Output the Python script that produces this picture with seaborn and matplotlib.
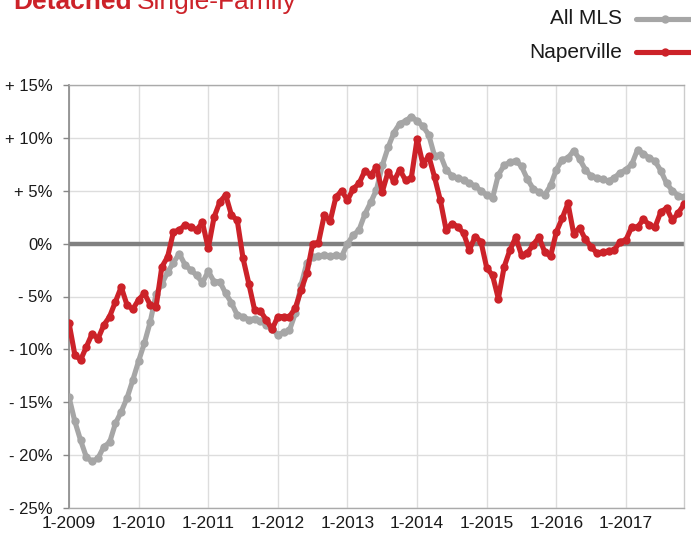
import matplotlib
matplotlib.use("Agg")
import matplotlib.pyplot as plt
import seaborn as sns
import numpy as np
import pandas as pd
from matplotlib.lines import Line2D

# ---------------- data ----------------
x_tick_labels = ["1-2009", "1-2010", "1-2011", "1-2012", "1-2013",
                 "1-2014", "1-2015", "1-2016", "1-2017"]
y_tick_values = [-25, -20, -15, -10, -5, 0, 5, 10, 15]
y_tick_labels = ["- 25%", "- 20%", "- 15%", "- 10%", "- 5%", "0%",
                 "+ 5%", "+ 10%", "+ 15%"]

all_mls = [
    -14.5, -16.8, -18.6, -20.2, -20.6, -20.3, -19.2, -18.8, -17.0, -15.9,
    -14.6, -12.9, -11.1, -9.4, -7.4, -4.8, -3.8, -2.7, -1.8, -0.95,
    -2.0, -2.5, -3.0, -3.7, -2.6, -3.6, -3.6, -4.7, -5.6, -6.75,
    -6.9, -7.2, -7.1, -7.3, -7.7, -8.1, -8.6, -8.4, -8.2, -6.6,
    -3.9, -1.8, -1.25, -1.15, -1.1, -1.2, -1.1, -1.2, 0.0, 0.8,
    1.3, 2.8, 3.9, 5.1, 7.4, 9.1, 10.5, 11.35, 11.6, 12.0,
    11.6, 11.1, 10.3, 8.3, 8.4, 7.0, 6.4, 6.2, 6.05, 5.7,
    5.45, 5.0, 4.6, 4.3, 6.5, 7.4, 7.7, 7.85, 7.3, 6.1,
    5.2, 4.85, 4.6, 5.5, 7.0, 7.95, 8.1, 8.8, 8.0, 7.0,
    6.35, 6.25, 6.1, 5.9, 6.25, 6.7, 7.0, 7.5, 8.9, 8.5,
    8.1, 7.8, 6.9, 5.7, 5.0, 4.55, 4.4,
]

naperville = [
    -7.5, -10.5, -11.0, -9.75, -8.5, -9.0, -7.7, -6.9, -5.5, -4.1,
    -5.8, -6.2, -5.3, -4.7, -5.8, -6.0, -2.2, -1.25, 1.1, 1.3,
    1.75, 1.6, 1.3, 2.0, -0.45, 2.5, 3.95, 4.6, 2.7, 2.2,
    -1.4, -3.8, -6.3, -6.4, -7.2, -8.1, -6.9, -6.9, -6.9, -6.1,
    -4.4, -2.8, 0.0, 0.1, 2.7, 2.1, 4.4, 5.0, 4.1, 5.2,
    5.7, 6.9, 6.5, 7.2, 4.9, 6.8, 5.9, 7.0, 6.0, 6.2,
    9.9, 7.5, 8.3, 6.3, 4.1, 1.3, 1.9, 1.6, 1.0, -0.6,
    0.66, 0.2, -2.3, -3.0, -5.2, -2.2, -0.6, 0.6, -1.1, -0.9,
    -0.1, 0.6, -0.8, -1.2, 1.1, 2.4, 3.8, 0.9, 1.5, 0.4,
    -0.3, -0.9, -0.8, -0.7, -0.6, 0.2, 0.35, 1.6, 1.55, 2.3,
    1.8, 1.55, 3.0, 3.35, 2.2, 2.9, 3.7,
]

series_names = ["All MLS", "Naperville"]

# ---------------- style ----------------
GRAY = "#a6a6a6"
RED = "#cc2229"
TEXT = "#1a1a1a"

sns.set_theme(style="white")
plt.rcParams["font.family"] = ["Liberation Sans", "DejaVu Sans"]

W, H = 691, 535
fig = plt.figure(figsize=(W / 100, H / 100), dpi=100)
ax = fig.add_axes([69 / W, 1 - 508 / H, (684 - 69) / W, (508 - 85) / H])

months = np.arange(len(all_mls))
df = pd.DataFrame({
    "month": np.concatenate([months, months]),
    "value": all_mls + naperville,
    "series": [series_names[0]] * len(all_mls) + [series_names[1]] * len(naperville),
})

ax.axhline(0, color="#808080", lw=3.2, zorder=1.5)

for name, col in zip(series_names, [GRAY, RED]):
    sub = df[df["series"] == name]
    sns.lineplot(data=sub, x="month", y="value", color=col, lw=3.7,
                 marker="o", markersize=6, markeredgewidth=0,
                 markeredgecolor=col, ax=ax, zorder=3, legend=False)

ax.set_xlim(0, len(all_mls) - 1)
ax.set_ylim(-25, 15)
ax.set_xticks(np.arange(len(x_tick_labels)) * 12)
ax.set_xticklabels(x_tick_labels)
ax.set_yticks(y_tick_values)
ax.set_yticklabels(y_tick_labels)
ax.set_xlabel("")
ax.set_ylabel("")

ax.grid(True, color="#dddddd", lw=1.0, zorder=0)
ax.set_axisbelow(True)

ax.tick_params(axis="y", length=4, width=1, color="#888888", pad=8,
               labelsize=12, labelcolor=TEXT, left=True)
ax.tick_params(axis="x", length=0, pad=6, labelsize=12.5, labelcolor=TEXT)

ax.spines["left"].set_color("#888888")
ax.spines["left"].set_linewidth(1.2)
ax.spines["bottom"].set_color("#aaaaaa")
ax.spines["bottom"].set_linewidth(1.0)
ax.spines["top"].set_color("#aaaaaa")
ax.spines["top"].set_linewidth(1.0)
ax.spines["right"].set_color("#cccccc")
ax.spines["right"].set_linewidth(1.0)

# ---------------- title (cut off at top) ----------------
fig.text(13 / W, 1 - 9 / H, "Detached", color=RED, fontsize=19,
         fontweight="bold", va="baseline", ha="left")
fig.text(137 / W, 1 - 9 / H, "Single-Family", color=RED, fontsize=19,
         va="baseline", ha="left")

# ---------------- legend (manual, text right-aligned) ----------------
for name, col, yy in zip(series_names, [GRAY, RED], [19, 52]):
    fig.text(622 / W, 1 - yy / H, name, ha="right", va="center",
             fontsize=15, color=TEXT)
    fig.add_artist(Line2D([636 / W, 696 / W], [1 - yy / H, 1 - yy / H],
                          transform=fig.transFigure, color=col, lw=3.7,
                          solid_capstyle="round"))
    fig.add_artist(Line2D([665 / W], [1 - yy / H], transform=fig.transFigure,
                          color=col, marker="o", markersize=6,
                          markeredgewidth=0, linestyle="none"))

fig.savefig("out.png", dpi=100)
